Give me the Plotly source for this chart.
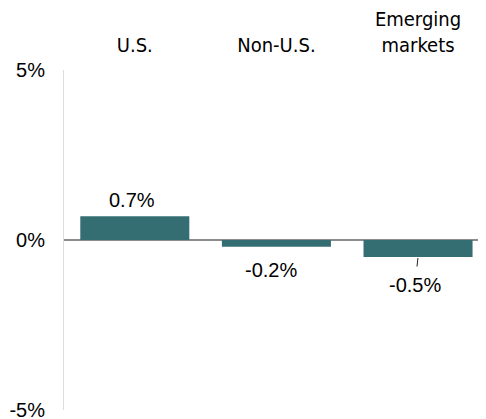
import plotly.graph_objects as go

categories = ["U.S.", "Non-U.S.", "Emerging<br>markets"]
values = [0.7, -0.2, -0.5]
value_labels = ["0.7%", "-0.2%", "-0.5%"]
y_ticks = [-5, 0, 5]
y_tick_labels = ["-5%", "0%", "5%"]

BAR_COLOR = "#346e73"
CAT_FONT = "DejaVu Sans Condensed, Liberation Sans, sans-serif"
NUM_FONT = "Liberation Sans, Arial, sans-serif"

# The page body has an 8px margin, so the figure is sized/offset to compensate.
fig = go.Figure(go.Bar(
    x=categories, y=values, marker=dict(color=BAR_COLOR, line=dict(width=0)),
    hoverinfo="skip",
))

label_cfg = [
    dict(yanchor="bottom", yshift=3, xshift=-3, arrow=False),
    dict(yanchor="top", yshift=-10, xshift=-5, arrow=False),
    dict(yanchor="top", yshift=-20, xshift=-3, arrow=True),
]
for cat, v, txt, cfg in zip(categories, values, value_labels, label_cfg):
    if cfg["arrow"]:
        fig.add_annotation(
            x=cat, y=v, text=txt, showarrow=True, arrowhead=0, arrowwidth=1,
            arrowcolor="#222", ax=-3, ay=28, standoff=1, startstandoff=6,
            font=dict(family=NUM_FONT, size=20, color="#000"),
        )
    else:
        fig.add_annotation(
            x=cat, y=v, text=txt, showarrow=False, yanchor=cfg["yanchor"],
            yshift=cfg["yshift"], xshift=cfg["xshift"],
            font=dict(family=NUM_FONT, size=20, color="#000"),
        )

fig.update_layout(
    width=478, height=411,
    margin=dict(l=56, r=0, t=62, b=9, autoexpand=False),
    paper_bgcolor="white", plot_bgcolor="white",
    showlegend=False, bargap=0.23,
    xaxis=dict(
        side="top", range=[-0.5, 2.48], showgrid=False, zeroline=False,
        showline=False, ticks="", ticklabelstandoff=13, automargin=False,
        tickfont=dict(family=CAT_FONT, size=20, color="#000"),
    ),
    yaxis=dict(
        range=[-5, 5], tickvals=y_ticks, ticktext=y_tick_labels,
        showgrid=False, zeroline=True, zerolinecolor="#8c8c8c", zerolinewidth=2,
        showline=True, linecolor="#dcdcdc", linewidth=1, ticks="",
        ticklabelstandoff=14, automargin=False, ticklabeloverflow="allow",
        tickfont=dict(family=NUM_FONT, size=20, color="#000"),
    ),
)

fig.write_html("out.html")
